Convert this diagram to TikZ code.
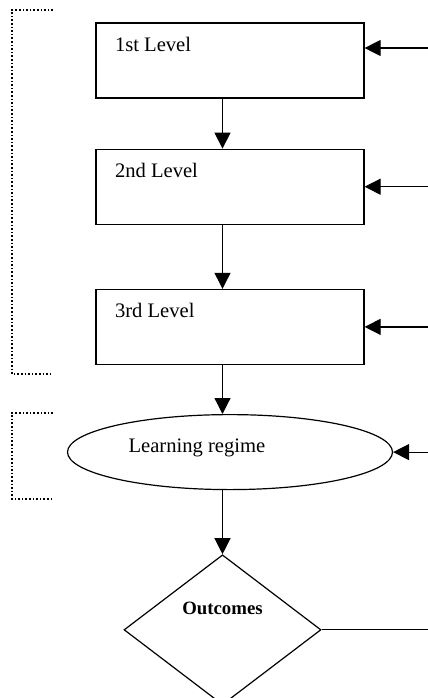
\documentclass[tikz,border=0pt]{standalone}
\usepackage{fontspec}
\setmainfont{Liberation Serif}
\usetikzlibrary{shapes.geometric,arrows.meta,positioning}

\begin{document}
\begin{tikzpicture}[x=1pt,y=1pt,line width=0.6pt,>={Triangle[length=8pt,width=8pt]},
    font=\fontsize{10.3}{12}\selectfont,
    box/.style={draw,minimum width=134pt,minimum height=37.5pt,inner sep=0pt},
    oval/.style={draw,ellipse,minimum width=162.5pt,minimum height=37.5pt,inner sep=0pt},
    decision/.style={draw,diamond,minimum width=98.5pt,minimum height=75pt,inner sep=0pt},
    boxtext/.style={anchor=base west,inner sep=0pt,xshift=9.5pt,yshift=-14.3pt},
    bracket/.style={line width=0.6pt,dash pattern=on 0.8pt off 1pt}]

    \useasboundingbox (0,0) rectangle (214,-349);

    \node[box,label={[boxtext]north west:1st Level}] (l1) at (115,-30.25) {};
    \node[box,below =25pt of l1,label={[boxtext]north west:2nd Level}] (l2) {};
    \node[box,below =32pt of l2,label={[boxtext]north west:3rd Level}] (l3) {};

    \node[oval,below =24.5pt of l3] (lr) {};
    \node[anchor=base west,inner sep=0pt] (lrtext) at ([xshift=-51pt]lr.center) {Learning regime};
    \node[decision,below =32pt of lr,xshift=-3.75pt] (out) {};
    \node[anchor=base,inner sep=0pt,font=\fontsize{9.4}{11}\selectfont\bfseries] (outtext) at ([yshift=7.65pt]out.center) {Outcomes};

    \coordinate (edge) at (214,0);
    \coordinate (r1) at (214,-24);

    \draw[->] (l1.south -| out) -- (l2.north -| out);
    \draw[->] (l2.south -| out) -- (l3.north -| out);
    \draw[->] (l3.south -| out) -- (lr.north -| out);
    \draw[->] (lr.south -| out) -- (out.north);

    \draw[->] (r1) -- (l1.east |- r1);
    \draw[->] (edge |- l2) -- (l2.east);
    \draw[->] (edge |- l3) -- (l3.east);
    \draw[->] (edge |- lr) -- (lr.east);
    \draw (out.east) -- (edge |- out);

    \draw[bracket] (26.5,-5) -- (6,-5) -- (6,-187) -- (26.5,-187);
    \draw[bracket] (26.5,-206.5) -- (6,-206.5) -- (6,-249.5) -- (26.5,-249.5);

\end{tikzpicture}
\end{document}
